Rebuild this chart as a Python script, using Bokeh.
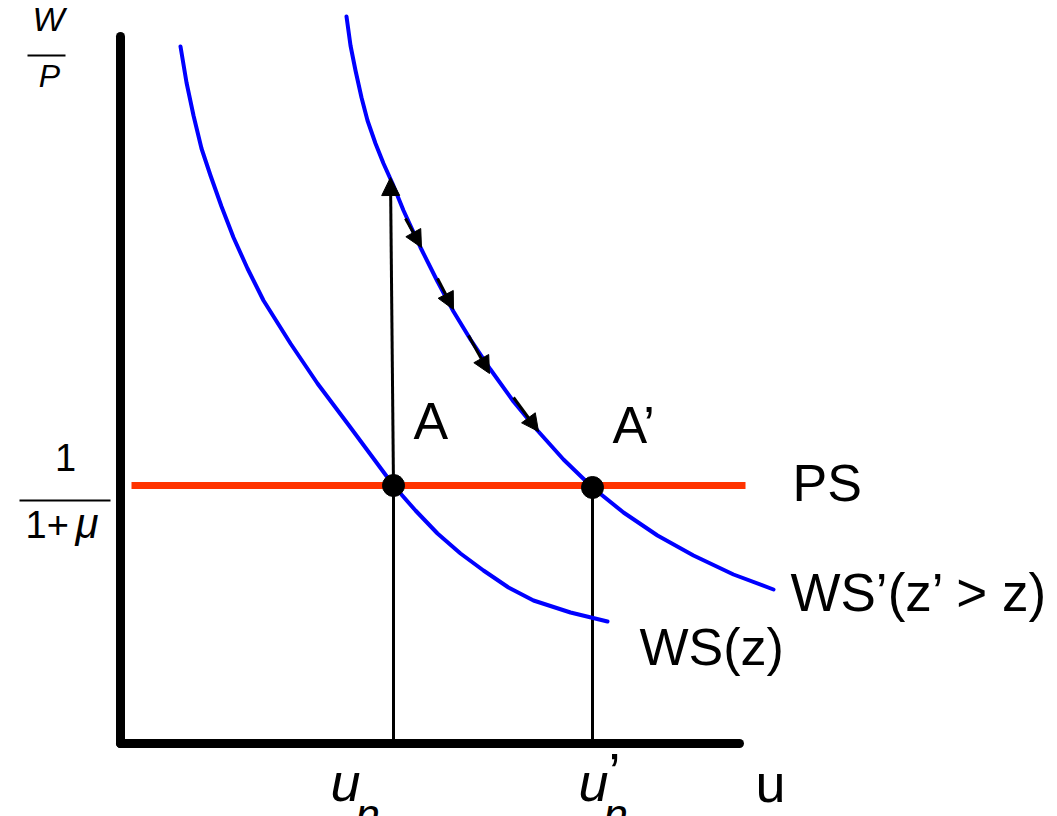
from bokeh.plotting import figure
from bokeh.models import Range1d, Arrow, NormalHead, ColumnDataSource
from bokeh.core.properties import value
from bokeh.embed import file_html
from bokeh.resources import INLINE

# ---- data (diagram units: origin at the axes corner, u to the right, W/P upward) ----
WS_u = [60, 66, 73, 81, 90, 101, 113, 127, 143, 170, 197, 230, 273, 295, 317, 340, 363, 388, 413, 450, 487]
WS_w = [697, 661, 628, 595, 568, 537, 506, 475, 443, 400, 360, 316, 258, 233, 210, 190, 173, 156, 143, 131, 122]

WSp_u = [226, 230, 235, 241, 247, 255, 263, 272, 283, 300, 317, 333, 350, 370, 393, 417, 443,
         472, 503, 537, 573, 613, 653]
WSp_w = [727, 698, 673, 646, 623, 600, 580, 560, 533, 496, 462, 432, 404, 374, 342, 313, 284,
         256, 231, 208, 188, 169, 154]

PS_u = [11, 625]
PS_level = 258

eq_u = [273, 472]          # u_n, u_n'
eq_w = [258, 256]

shock_start = (273, 258)
shock_end = (270, 566)

adj_u0 = [285, 317, 348, 393]
adj_w0 = [525, 465, 408, 346]
adj_u1 = [301, 333, 369, 418]
adj_w1 = [496, 434, 370, 312]

axis_u_max = 619
axis_w_max = 707

FONT = "Liberation Sans"
BASE_SHIFT = 0.385   # compensation of the rendered baseline, in em

p = figure(width=1057, height=816, output_backend="svg", toolbar_location=None,
           x_range=Range1d(-120, 937), y_range=Range1d(-73, 743),
           x_axis_location=None, y_axis_location=None, min_border=0)
p.grid.visible = False
p.outline_line_color = None
p.background_fill_color = "white"
p.border_fill_color = "white"

# axes
p.line([0, 0], [0, axis_w_max], line_width=9, line_color="black", line_cap="round")
p.line([0, axis_u_max], [0, 0], line_width=9, line_color="black", line_cap="round")

# drop lines
for u, w in zip(eq_u, eq_w):
    p.line([u, u], [0, w], line_width=3, line_color="black")

# curves
p.line(WS_u, WS_w, line_width=4, line_color="#0000FF", line_cap="round", line_join="round")
p.line(WSp_u, WSp_w, line_width=4, line_color="#0000FF", line_cap="round", line_join="round")

# PS
p.line(PS_u, [PS_level, PS_level], line_width=7, line_color="#FF3300")

# shock arrow
p.add_layout(Arrow(end=NormalHead(size=18, fill_color="black", line_color="black"),
                   x_start=shock_start[0], y_start=shock_start[1],
                   x_end=shock_end[0], y_end=shock_end[1],
                   line_width=3, line_color="black"))

# adjustment arrows
src = ColumnDataSource(dict(x0=adj_u0, y0=adj_w0, x1=adj_u1, y1=adj_w1))
p.add_layout(Arrow(end=NormalHead(size=17, fill_color="black", line_color="black"),
                   x_start="x0", y_start="y0", x_end="x1", y_end="y1",
                   source=src, line_width=3, line_color="black"))

# equilibrium points
p.scatter(eq_u, eq_w, size=22, color="black")

def lab(x, y, t, size, style="normal", align="left"):
    p.text(x=[x], y=[y + BASE_SHIFT * size], text=[t], text_font=value(FONT),
           text_font_size=f"{size}px", text_font_style=style, text_align=align,
           text_baseline="alphabetic", text_color="black")

lab(293, 302, "A", 52)
lab(492, 298, "A\u2019", 52)
lab(672, 240, "PS", 52)
lab(670, 131, "WS\u2019(z\u2019 > z)", 53)
lab(519, 76, "WS(z)", 52)
lab(635, -60, "u", 54)

lab(210, -59, "u", 54, "italic")
lab(235, -88, "n", 44, "italic")
lab(458, -59, "u", 54, "italic")
lab(483, -88, "n", 44, "italic")
lab(488, -49, "\u2019", 54)

# W/P
lab(-72, 711, "W", 34, "italic", "center")
p.line([-93, -55], [688, 688], line_width=2, line_color="black")
lab(-71, 655, "P", 32, "italic", "center")

# 1/(1+mu)
lab(-55, 271, "1", 38, "normal", "center")
p.line([-101, -10], [243, 243], line_width=2, line_color="black")
lab(-95, 204, "1+", 38)
lab(-45, 204, "\u03bc", 42, "italic")

open("out.html", "w").write(file_html(p, INLINE))
